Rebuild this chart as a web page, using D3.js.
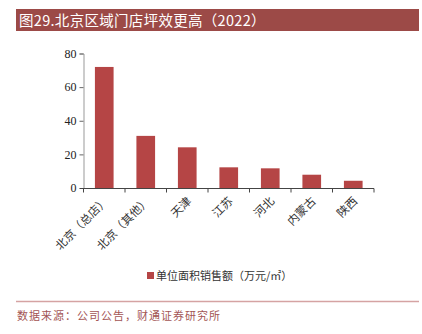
<!DOCTYPE html>
<html><head><meta charset="utf-8">
<script src="https://cdn.jsdelivr.net/npm/d3@7"></script>
<style>body{margin:0;background:#fff;}svg{display:block;}</style>
</head><body>
<svg id="c" width="422" height="334"></svg>
<script>
const titleText = "图29.北京区域门店坪效更高（2022）";
const categories = ["北京（总店）","北京（其他）","天津","江苏","河北","内蒙古","陕西"];
const values = [72, 31, 24.2, 12.3, 11.7, 7.9, 4.3];
const yTicks = [0, 20, 40, 60, 80];
const legendLabel = "单位面积销售额（万元/㎡）";
const sourceText = "数据来源：公司公告，财通证券研究所";

const svg = d3.select("#c");
const red = "#b54545";
const cjk = "'Noto Sans CJK SC', sans-serif";
const serif = "'Liberation Serif', 'Times New Roman', serif";

// title band
svg.append("rect").attr("x",16).attr("y",9).attr("width",403).attr("height",22).attr("fill","#9c4a47");
svg.append("text").attr("x",19).attr("y",25.5).attr("fill","#fff").attr("font-family",cjk)
  .attr("font-size",14.5).attr("letter-spacing",0.3).text(titleText);

const x = d3.scaleBand().domain(categories).range([83.5,374]).paddingInner(0.55).paddingOuter(0.275);
const y = d3.scaleLinear().domain([0,80]).range([188,53.5]);

// y axis
const ya = svg.append("g").attr("transform","translate(83.5,0)")
  .call(d3.axisLeft(y).tickValues(yTicks).tickSize(4).tickPadding(3).tickFormat(d3.format("d")));
ya.select(".domain").attr("stroke","#999");
ya.selectAll(".tick line").attr("stroke","#666");
ya.selectAll("text").attr("font-family",serif).attr("font-size",12).attr("fill","#222");

// bars
svg.selectAll("rect.bar").data(values).join("rect").attr("class","bar")
  .attr("x",(d,i)=>x(categories[i])).attr("width",x.bandwidth())
  .attr("y",d=>y(d)).attr("height",d=>y(0)-y(d)).attr("fill",red);

// x axis
const xTickScale = d3.scaleLinear().domain([0,categories.length]).range([83.5,374]);
const xa = svg.append("g").attr("transform","translate(0,188.5)");
xa.append("line").attr("x1",80).attr("x2",374).attr("stroke","#444");
xa.selectAll("line.t").data(d3.range(categories.length+1)).join("line").attr("class","t")
  .attr("x1",d=>xTickScale(d)).attr("x2",d=>xTickScale(d)).attr("y1",0).attr("y2",4).attr("stroke","#444");

svg.selectAll("text.xl").data(categories).join("text").attr("class","xl")
  .attr("transform",d=>`translate(${x(d)+x.bandwidth()/2+2},${199}) rotate(-45)`)
  .attr("text-anchor","end").attr("dy","0.35em")
  .attr("font-family",cjk).attr("font-size",11.5).attr("fill","#333").text(d=>d);

// legend
svg.append("rect").attr("x",147).attr("y",272).attr("width",7).attr("height",7).attr("fill",red);
svg.append("text").attr("x",156).attr("y",279.5).attr("font-family",cjk).attr("font-size",11)
  .attr("fill","#333").text(legendLabel);

// footer
svg.append("line").attr("x1",16).attr("x2",419).attr("y1",301.5).attr("y2",301.5)
  .attr("stroke","#d5a3a3").attr("stroke-width",1.5);
svg.append("text").attr("x",17).attr("y",320).attr("font-family",cjk).attr("font-size",11)
  .attr("letter-spacing",1).attr("fill","#a35555").text(sourceText);
</script>
</body></html>
